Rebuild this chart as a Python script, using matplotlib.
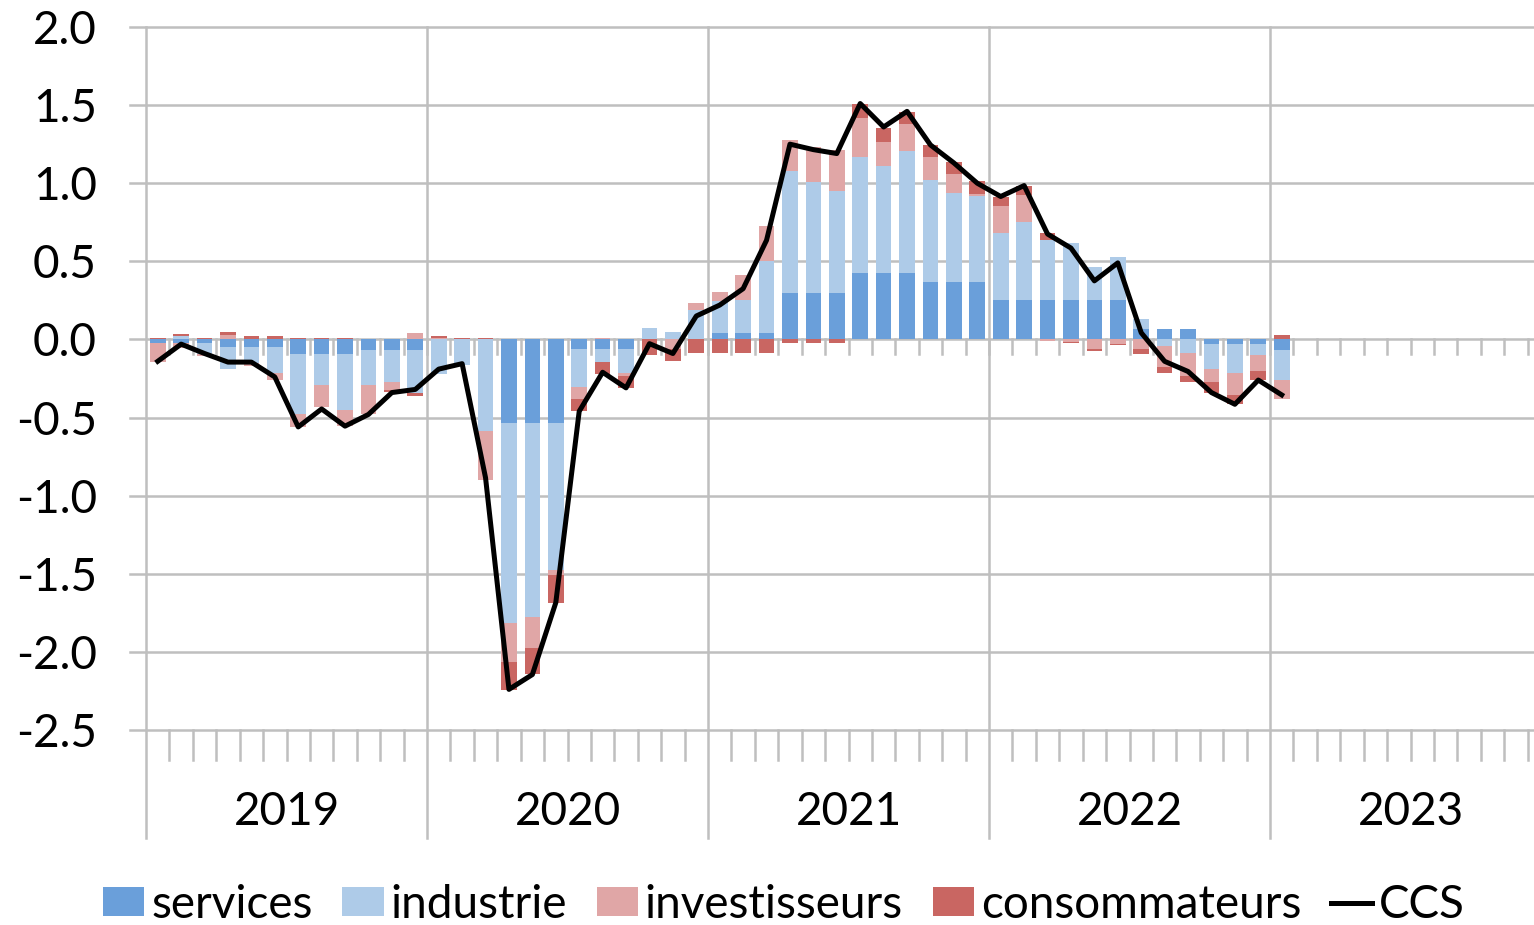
import matplotlib.pyplot as plt
import numpy as np

# contributions to the CCS, monthly, Jan 2019 .. Jan 2023
services = [-0.02, -0.025, -0.02, -0.05, -0.05, -0.05, -0.09, -0.09, -0.09, -0.065, -0.065, -0.065,
            0.0, 0.0, 0.0, -0.533, -0.533, -0.533, -0.064, -0.064, -0.064, 0.0, 0.0, 0.0,
            0.043, 0.043, 0.043, 0.30, 0.30, 0.30, 0.427, 0.427, 0.427, 0.369, 0.369, 0.369,
            0.252, 0.252, 0.252, 0.252, 0.252, 0.252, 0.064, 0.064, 0.064, -0.032, -0.032, -0.032,
            -0.07]
industrie = [-0.005, 0.025, -0.075, -0.14, -0.10, -0.165, -0.39, -0.20, -0.36, -0.225, -0.205, -0.275,
             -0.22, -0.165, -0.583, -1.285, -1.244, -0.943, -0.241, -0.079, -0.149, 0.075, 0.047, 0.186,
             0.205, 0.209, 0.457, 0.779, 0.711, 0.651, 0.743, 0.683, 0.779, 0.651, 0.57, 0.548,
             0.431, 0.501, 0.382, 0.363, 0.213, 0.273, 0.07, -0.043, -0.085, -0.154, -0.181, -0.07,
             -0.192]
investisseurs = [-0.12, -0.03, -0.01, 0.03, -0.02, -0.047, -0.08, -0.145, -0.107, -0.19, -0.053, 0.04,
                 0.01, 0.0, -0.314, -0.248, -0.20, -0.034, -0.079, 0.01, -0.021, 0.0, -0.06, 0.049,
                 0.053, 0.16, 0.224, 0.198, 0.224, 0.262, 0.25, 0.156, 0.171, 0.149, 0.12, 0.017,
                 0.171, 0.169, -0.013, -0.015, -0.064, -0.026, -0.058, -0.132, -0.149, -0.087, -0.143, -0.10,
                 -0.117]
consommateurs = [0.012, 0.01, 0.01, 0.015, 0.025, 0.025, 0.01, 0.01, 0.01, 0.0, -0.015, -0.02,
                 0.015, 0.01, 0.01, -0.175, -0.162, -0.175, -0.075, -0.081, -0.075, -0.102, -0.08, -0.085,
                 -0.085, -0.085, -0.085, -0.02, -0.02, -0.02, 0.087, 0.085, 0.077, 0.075, 0.079, 0.081,
                 0.058, 0.06, 0.049, -0.009, -0.011, -0.011, -0.038, -0.038, -0.038, -0.073, -0.055, -0.058,
                 0.026]
ccs = [-0.14, -0.03, -0.09, -0.145, -0.145, -0.24, -0.56, -0.445, -0.555, -0.48, -0.34, -0.32,
       -0.19, -0.155, -0.885, -2.24, -2.145, -1.685, -0.46, -0.21, -0.31, -0.027, -0.09, 0.15,
       0.22, 0.325, 0.635, 1.25, 1.215, 1.19, 1.51, 1.36, 1.46, 1.245, 1.13, 1.0,
       0.915, 0.985, 0.675, 0.585, 0.375, 0.49, 0.043, -0.14, -0.205, -0.34, -0.415, -0.26,
       -0.355]
years = ["2019", "2020", "2021", "2022", "2023"]
yticks = [2.0, 1.5, 1.0, 0.5, 0.0, -0.5, -1.0, -1.5, -2.0, -2.5]

series = [("services", services, "#6A9FDA"),
          ("industrie", industrie, "#AECBE8"),
          ("investisseurs", investisseurs, "#E0A6A6"),
          ("consommateurs", consommateurs, "#C96662")]

plt.rcParams['font.family'] = ['Lato', 'DejaVu Sans']
grey = "#BFBFBF"
fs = 33

W, H = 1534, 925
mpx = 281 / 12.0
x0, x1 = 146, 146 + 60 * mpx
fig = plt.figure(figsize=(W / 100, H / 100), dpi=100)
ax = fig.add_axes([x0 / W, 1 - 730 / H, (x1 - x0) / W, (730 - 27) / H])
ax.set_xlim(0, 60)
ax.set_ylim(-2.5, 2.0)
for s in ax.spines.values():
    s.set_visible(False)

upp = 4.5 / 703.0  # data units per pixel (y)
xpp = 1 / mpx

# gridlines, extending left as tick marks
for v in yticks:
    ax.plot([-16 * xpp, 60], [v, v], color=grey, lw=1.8, clip_on=False, zorder=0.5)
# year separators
for k in range(6):
    ax.plot([12 * k, 12 * k], [2.0, -2.5 - 108 * upp], color=grey, lw=1.8,
            clip_on=False, zorder=0.5)
# month ticks on zero line and bottom
for m in range(1, 60):
    ax.plot([m, m], [0, -15 * upp], color=grey, lw=1.8, zorder=0.6)
    if m % 12:
        ax.plot([m, m], [-2.5, -2.5 - 30 * upp], color=grey, lw=1.8,
                clip_on=False, zorder=0.5)

ax.set_xticks([])
ax.set_yticks(yticks)
ax.set_yticklabels(["%.1f" % v for v in yticks], fontsize=fs)
ax.tick_params(axis="y", length=0, pad=49 * 0.72)

x = np.arange(len(ccs)) + 0.5
pos = np.zeros(len(ccs))
neg = np.zeros(len(ccs))
handles = []
for name, vals, col in series:
    v = np.array(vals)
    base = np.where(v >= 0, pos, neg)
    b = ax.bar(x, v, width=0.67, bottom=base, color=col, label=name, zorder=2)
    handles.append(b)
    pos = pos + np.clip(v, 0, None)
    neg = neg + np.clip(v, None, 0)
ln, = ax.plot(x, ccs, color="black", lw=3.6, label="CCS", zorder=3)
handles.append(ln)

for k, yr in enumerate(years):
    ax.text(12 * k + 6, -2.5 - 95 * upp, yr, ha="center", va="baseline",
            fontsize=fs, clip_on=False)

fig.legend(handles=handles, loc="center", bbox_to_anchor=(784 / W, 1 - 905 / H), ncol=5,
           frameon=False, fontsize=fs, handlelength=0.9, handleheight=0.59,
           handletextpad=0.15, columnspacing=0.65, borderaxespad=0, borderpad=0)

fig.savefig("out.png", dpi=100)
